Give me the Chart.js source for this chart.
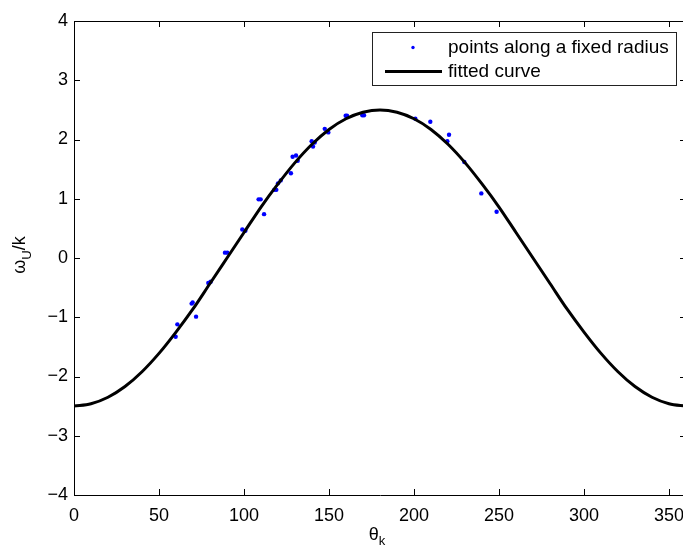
<!DOCTYPE html>
<html>
<head>
<meta charset="utf-8">
<script src="https://cdn.jsdelivr.net/npm/chart.js@4/dist/chart.umd.min.js"></script>
<style>
html,body{margin:0;padding:0;background:#fff;overflow:hidden;}
#wrap{width:700px;height:548px;}
</style>
</head>
<body>
<div id="wrap"><canvas id="c" width="700" height="548"></canvas></div>
<script>
// Scattered measurements (points along a fixed radius)
const thetaPts = [59.8, 60.8, 69.2, 69.8, 71.8, 79.0, 80.4, 88.8, 90.2, 99.0, 100.8, 108.6, 109.8, 111.8, 117.8, 119.0, 120.0, 121.6, 127.6, 128.6, 130.6, 131.6, 139.8, 140.6, 141.6, 147.5, 149.6, 159.8, 160.6, 169.6, 170.6, 200.8, 209.6, 219.6, 220.6, 229.6, 239.6, 248.6];
const omegaPts = [-1.33, -1.12, -0.77, -0.75, -0.99, -0.42, -0.40, 0.09, 0.09, 0.48, 0.46, 0.99, 0.99, 0.74, 1.15, 1.15, 1.26, 1.31, 1.43, 1.71, 1.73, 1.64, 1.97, 1.88, 1.95, 2.18, 2.12, 2.40, 2.40, 2.41, 2.41, 2.35, 2.30, 1.97, 2.08, 1.62, 1.09, 0.78];

// Fitted curve, read every 10 degrees
const thetaFit = [0,10,20,30,40,50,60,70,80,90,100,110,120,130,140,150,160,170,180,190,200,210,220,230,240,250,260,270,280,290,300,310,320,330,340,350,360];
const omegaFit = [-2.50,-2.46,-2.35,-2.17,-1.92,-1.61,-1.25,-0.86,-0.43,0.00,0.43,0.86,1.25,1.61,1.92,2.17,2.35,2.46,2.50,2.46,2.35,2.17,1.92,1.61,1.25,0.86,0.43,0.00,-0.43,-0.86,-1.25,-1.61,-1.92,-2.17,-2.35,-2.46,-2.50];

const xTicks = [0,50,100,150,200,250,300,350];
const yTicks = [-4,-3,-2,-1,0,1,2,3,4];
const seriesLabels = ['points along a fixed radius','fitted curve'];

const FONT = '"Liberation Sans", Arial, Helvetica, sans-serif';

const ptsData = thetaPts.map((t,i)=>({x:t,y:omegaPts[i]}));
const fitData = thetaFit.map((t,i)=>({x:t,y:omegaFit[i]}));

const decorPlugin = {
  id:'decor',
  afterDraw(chart){
    const ctx = chart.ctx, a = chart.chartArea;
    const xs = chart.scales.x, ys = chart.scales.y;
    ctx.save();
    ctx.strokeStyle = '#000';
    ctx.lineWidth = 1;
    // box
    ctx.beginPath();
    ctx.moveTo(a.left, a.top+0.5); ctx.lineTo(a.right, a.top+0.5);
    ctx.moveTo(a.right-0.5, a.top); ctx.lineTo(a.right-0.5, a.bottom);
    ctx.stroke();
    // inward ticks
    const L = 6;
    ctx.beginPath();
    xTicks.forEach(v=>{
      const px = Math.round(xs.getPixelForValue(v))+0.5;
      ctx.moveTo(px, a.bottom); ctx.lineTo(px, a.bottom-L);
      ctx.moveTo(px, a.top); ctx.lineTo(px, a.top+L);
    });
    yTicks.forEach(v=>{
      const py = Math.round(ys.getPixelForValue(v))+0.5;
      ctx.moveTo(a.left, py); ctx.lineTo(a.left+L, py);
      ctx.moveTo(a.right, py); ctx.lineTo(a.right-L, py);
    });
    ctx.stroke();

    // legend
    const lx=372.5, ly=32.5, lw=304, lh=53;
    ctx.fillStyle='#fff';
    ctx.fillRect(lx,ly,lw,lh);
    ctx.strokeStyle='#222';
    ctx.strokeRect(lx,ly,lw,lh);
    ctx.fillStyle='#0000ff';
    ctx.beginPath(); ctx.arc(413,47.5,1.7,0,Math.PI*2); ctx.fill();
    ctx.strokeStyle='#000'; ctx.lineWidth=3;
    ctx.beginPath(); ctx.moveTo(385,71.5); ctx.lineTo(442,71.5); ctx.stroke();
    ctx.fillStyle='#000';
    ctx.font = '19px '+FONT;
    ctx.textBaseline='middle'; ctx.textAlign='left';
    ctx.fillText(seriesLabels[0], 448, 48);
    ctx.fillText(seriesLabels[1], 448, 72);

    // x title: theta_k
    ctx.textBaseline='alphabetic';
    ctx.font='18px '+FONT;
    const w1 = ctx.measureText('θ').width;
    ctx.font='13px '+FONT;
    const w2 = ctx.measureText('k').width;
    let sx = 377 - (w1+w2)/2;
    ctx.font='18px '+FONT; ctx.fillText('θ', sx, 540);
    ctx.font='13px '+FONT; ctx.fillText('k', sx+w1, 545);

    // y title: omega_U / k
    ctx.translate(25, 255);
    ctx.rotate(-Math.PI/2);
    ctx.font='18px '+FONT;
    const a1 = ctx.measureText('ω').width;
    const a3 = ctx.measureText('/k').width;
    ctx.font='13px '+FONT;
    const a2 = ctx.measureText('U').width;
    let s = -(a1+a2+a3)/2;
    ctx.font='18px '+FONT; ctx.fillText('ω', s, 0);
    ctx.font='13px '+FONT; ctx.fillText('U', s+a1, 6);
    ctx.font='18px '+FONT; ctx.fillText('/k', s+a1+a2, 0);
    ctx.restore();
  }
};

new Chart(document.getElementById('c'), {
  type:'scatter',
  data:{
    datasets:[
      {label:seriesLabels[0], data:ptsData, showLine:false, pointRadius:2.2, pointHoverRadius:2.2,
       pointBackgroundColor:'#0000ff', pointBorderColor:'#0000ff', pointBorderWidth:0, order:2},
      {label:seriesLabels[1], data:fitData, showLine:true, pointRadius:0, borderColor:'#000',
       borderWidth:3, cubicInterpolationMode:'monotone', fill:false, order:1}
    ]
  },
  options:{
    responsive:false,
    animation:false,
    devicePixelRatio:1,
    layout:{padding:{top:21,right:14,left:0,bottom:0}},
    plugins:{legend:{display:false}, tooltip:{enabled:false}},
    scales:{
      x:{
        type:'linear', min:0, max:360,
        afterBuildTicks(s){ s.ticks = xTicks.map(v=>({value:v})); },
        afterFit(s){ s.height = 53; },
        grid:{display:false, drawTicks:false},
        border:{display:true, color:'#000', width:1},
        ticks:{color:'#000', font:{family:FONT, size:18}, padding:10, maxRotation:0, autoSkip:false}
      },
      y:{
        type:'linear', min:-4, max:4,
        afterBuildTicks(s){ s.ticks = yTicks.map(v=>({value:v})); },
        afterFit(s){ s.width = 74; },
        grid:{display:false, drawTicks:false},
        border:{display:true, color:'#000', width:1},
        ticks:{color:'#000', font:{family:FONT, size:18}, padding:6,
          callback:(v)=> String(v).replace('-', '\u2212')}
      }
    }
  },
  plugins:[decorPlugin]
});
</script>
</body>
</html>
